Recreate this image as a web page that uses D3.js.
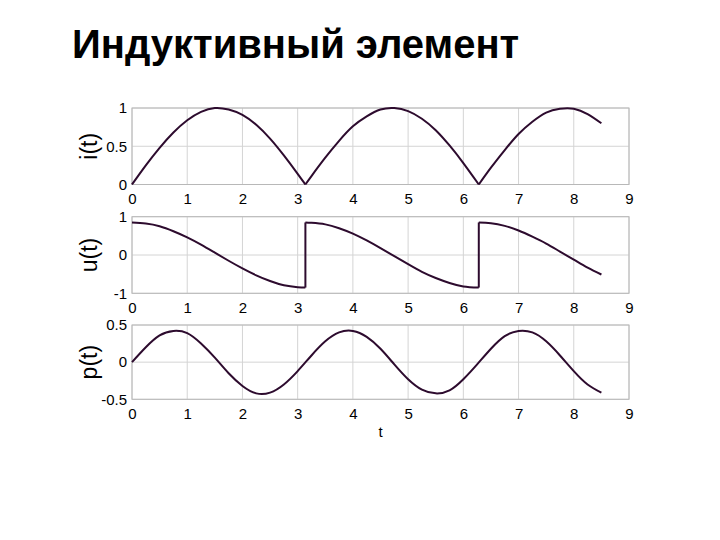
<!DOCTYPE html>
<html><head><meta charset="utf-8">
<script src="https://cdn.jsdelivr.net/npm/d3@7"></script>
<style>
html,body{margin:0;padding:0;background:#fff;}
text{font-family:"Liberation Sans",Arial,sans-serif;}
</style></head>
<body><svg id="chart" width="720" height="540"></svg>
<script>
const title = "Индуктивный элемент";
const xTicks = [0,1,2,3,4,5,6,7,8,9];

// i(t) (repeated t marks a cusp / break of the curve)
const tI = [0,0.25,0.5,0.75,1,1.25,1.5,1.75,2,2.25,2.5,2.75,3,3.14,3.14,3.25,3.5,3.75,4,4.25,4.5,4.75,5,5.25,5.5,5.75,6,6.28,6.28,6.5,6.75,7,7.25,7.5,7.75,8,8.25,8.5];
const iVals = [0,0.25,0.48,0.68,0.84,0.95,1.0,0.98,0.91,0.78,0.60,0.38,0.14,0,0,0.11,0.35,0.57,0.76,0.89,0.98,1.0,0.96,0.86,0.71,0.51,0.28,0,0,0.22,0.45,0.66,0.82,0.94,0.99,0.99,0.92,0.80];

// u(t) (repeated t marks the jumps)
const tU = [0,0.25,0.5,0.75,1,1.25,1.5,1.75,2,2.25,2.5,2.75,3,3.14,3.14,3.25,3.5,3.75,4,4.25,4.5,4.75,5,5.25,5.5,5.75,6,6.28,6.28,6.5,6.75,7,7.25,7.5,7.75,8,8.25,8.5];
const uVals = [0.85,0.82,0.75,0.62,0.46,0.27,0.06,-0.15,-0.35,-0.53,-0.68,-0.79,-0.84,-0.85,0.85,0.84,0.80,0.70,0.56,0.38,0.18,-0.03,-0.24,-0.44,-0.60,-0.73,-0.82,-0.85,0.85,0.83,0.76,0.64,0.48,0.30,0.09,-0.12,-0.33,-0.51];

// p(t)
const tP = [0,0.25,0.5,0.75,1,1.25,1.5,1.75,2,2.25,2.5,2.75,3,3.25,3.5,3.75,4,4.25,4.5,4.75,5,5.25,5.5,5.75,6,6.25,6.5,6.75,7,7.25,7.5,7.75,8,8.25,8.5];
const pVals = [0,0.20,0.36,0.42,0.39,0.25,0.06,-0.15,-0.32,-0.42,-0.41,-0.30,-0.12,0.09,0.28,0.40,0.42,0.34,0.18,-0.03,-0.23,-0.37,-0.42,-0.38,-0.23,-0.03,0.18,0.35,0.42,0.40,0.28,0.09,-0.12,-0.30,-0.41];

const panels = [
  {label:"i(t)", t:tI, v:iVals, domain:[0,1], ticks:[0,0.5,1], tickLabels:["0","0.5","1"], top:108, bottom:184.5},
  {label:"u(t)", t:tU, v:uVals, domain:[-1,1], ticks:[-1,0,1], tickLabels:["-1","0","1"], top:216.7, bottom:293.3},
  {label:"p(t)", t:tP, v:pVals, domain:[-0.5,0.5], ticks:[-0.5,0,0.5], tickLabels:["-0.5","0","0.5"], top:325, bottom:399.3}
];

const svg = d3.select("#chart");
svg.append("text").attr("x",72).attr("y",58)
  .attr("font-size",40).attr("font-weight","bold").attr("fill","#000")
  .text(title);

const x = d3.scaleLinear().domain([0,9]).range([132,629]);
const lineColor = "#2d0b2e";

panels.forEach(p => {
  const y = d3.scaleLinear().domain(p.domain).range([p.bottom,p.top]);
  const g = svg.append("g");
  g.selectAll(".gx").data(xTicks).join("line")
    .attr("x1",d=>x(d)).attr("x2",d=>x(d)).attr("y1",p.top).attr("y2",p.bottom)
    .attr("stroke","#d4d4d4").attr("stroke-width",1);
  g.selectAll(".gy").data(p.ticks).join("line")
    .attr("x1",x(0)).attr("x2",x(9)).attr("y1",d=>y(d)).attr("y2",d=>y(d))
    .attr("stroke","#d4d4d4").attr("stroke-width",1);
  g.append("rect").attr("x",x(0)).attr("y",p.top).attr("width",x(9)-x(0)).attr("height",p.bottom-p.top)
    .attr("fill","none").attr("stroke","#b8b8b8").attr("stroke-width",1);
  const xa = d3.axisBottom(x).tickValues(xTicks).tickSize(0).tickPadding(9);
  const gx = g.append("g").attr("transform",`translate(0,${p.bottom})`).call(xa);
  gx.select(".domain").remove();
  gx.selectAll("text").attr("font-size",15).attr("fill","#000").attr("font-family","Liberation Sans, Arial, sans-serif");
  const ya = d3.axisLeft(y).tickValues(p.ticks).tickFormat((d,i)=>p.tickLabels[i]).tickSize(0).tickPadding(5);
  const gy = g.append("g").attr("transform",`translate(${x(0)},0)`).call(ya);
  gy.select(".domain").remove();
  gy.selectAll("text").attr("font-size",15).attr("fill","#000").attr("font-family","Liberation Sans, Arial, sans-serif");
  g.append("text").attr("transform",`translate(97,${(p.top+p.bottom)/2}) rotate(-90)`)
    .attr("text-anchor","middle").attr("font-size",23).attr("fill","#000").text(p.label);
  const segs = [[]];
  p.t.forEach((tv,i)=>{
    if(i>0 && tv===p.t[i-1]){ segs.push([]); }
    segs[segs.length-1].push([tv,p.v[i]]);
  });
  const line = d3.line().x(d=>x(d[0])).y(d=>y(d[1])).curve(d3.curveNatural);
  segs.forEach((s,k)=>{
    g.append("path").attr("d",line(s)).attr("fill","none").attr("stroke",lineColor).attr("stroke-width",2);
    if(k>0){
      const prev = segs[k-1][segs[k-1].length-1];
      g.append("line").attr("x1",x(prev[0])).attr("x2",x(s[0][0])).attr("y1",y(prev[1])).attr("y2",y(s[0][1]))
        .attr("stroke",lineColor).attr("stroke-width",2);
    }
  });
});

svg.append("text").attr("x",x(4.5)).attr("y",437).attr("text-anchor","middle")
  .attr("font-size",15).attr("fill","#000").text("t");
</script></body></html>
